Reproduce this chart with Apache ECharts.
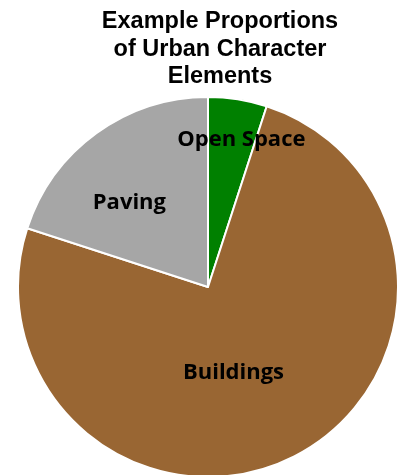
<!DOCTYPE html>
<html><head><meta charset="utf-8">
<script src="https://cdn.jsdelivr.net/npm/echarts@6/dist/echarts.min.js"></script>
<style>html,body{margin:0;padding:0;background:#fff}#c{width:401px;height:475px}</style>
</head><body><div id="c"></div>
<script>
var categories = ['Open Space', 'Buildings', 'Paving'];
var values = [5, 75, 20];
var colors = ['#008000', '#996633', '#A6A6A6'];
var labelOffsets = [[18, -50], [-19, -2], [-21, -5]];

var chart = echarts.init(document.getElementById('c'));
chart.setOption({
  animation: false,
  title: {
    text: 'Example Proportions\nof Urban Character\nElements',
    left: 215, top: 3, textAlign: 'center',
    textStyle: { fontFamily: "'Liberation Sans', Arial, sans-serif", fontWeight: 'bold', fontSize: 23.5, lineHeight: 27.5, color: '#000' }
  },
  series: [{
    type: 'pie',
    center: [208, 287],
    radius: [0, 190],
    startAngle: 90,
    clockwise: true,
    itemStyle: { borderColor: '#fff', borderWidth: 2 },
    label: {
      position: 'inside',
      formatter: '{b}',
      fontFamily: "'Open Sans', sans-serif",
      fontWeight: 'bold', fontSize: 22, color: '#000'
    },
    labelLine: { show: false },
    data: categories.map(function (c, i) {
      return { name: c, value: values[i], itemStyle: { color: colors[i] }, label: { offset: labelOffsets[i] } };
    })
  }]
});
</script></body></html>
